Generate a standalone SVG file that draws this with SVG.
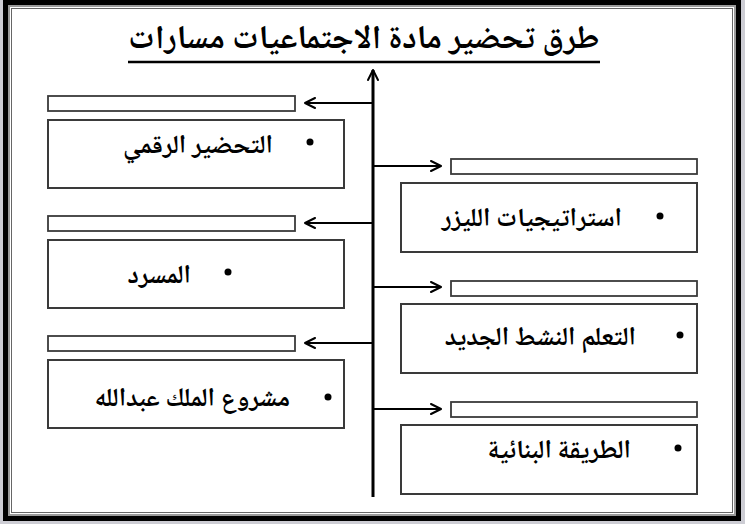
<svg xmlns="http://www.w3.org/2000/svg" width="745" height="524" viewBox="0 0 745 524">
<style>
.box{fill:#fff;stroke:#3a3a3a;stroke-width:2}
.bar{fill:#fff;stroke:#3a3a3a;stroke-width:1.8}
.lbl{font-family:"Noto Naskh Arabic","Amiri","DejaVu Sans",sans-serif;font-weight:bold;font-size:26px;fill:#000}
.conn{stroke:#000;stroke-width:2;fill:none}
.head{stroke:#000;stroke-width:2;fill:none;stroke-linecap:round;stroke-linejoin:round}
</style>
<defs>
<marker id="arr" viewBox="0 0 12 12" refX="11" refY="6" markerWidth="12" markerHeight="12" markerUnits="userSpaceOnUse" orient="auto">
<path d="M1,1 L11,6 L1,11" class="head"/>
</marker>
</defs>
<rect x="0" y="0" width="745" height="524" fill="#cdcdd4"/>
<rect x="3" y="0" width="738" height="521" fill="#000"/>
<rect x="8" y="5" width="728" height="511" fill="#9a9a9a"/>
<rect x="10" y="7" width="724" height="507" fill="#fff"/>
<rect x="11.5" y="8.5" width="721" height="504" fill="none" stroke="#666" stroke-width="1"/>
<g id="title">
<text x="364" y="48" text-anchor="middle" style="font-family:'Noto Naskh Arabic','Amiri','DejaVu Sans',sans-serif;font-weight:bold;font-size:33px">طرق تحضير مادة الاجتماعيات مسارات</text>
<line x1="128" y1="62" x2="600" y2="62" stroke="#000" stroke-width="2.5"/>
</g>
<g id="connectors">
<line x1="373" y1="497" x2="373" y2="70" stroke="#000" stroke-width="3" marker-end="url(#arr)"/>
<line x1="373" y1="103" x2="305" y2="103" class="conn" marker-end="url(#arr)"/>
<line x1="373" y1="223" x2="305" y2="223" class="conn" marker-end="url(#arr)"/>
<line x1="373" y1="343" x2="305" y2="343" class="conn" marker-end="url(#arr)"/>
<line x1="373" y1="166" x2="441" y2="166" class="conn" marker-end="url(#arr)"/>
<line x1="373" y1="287" x2="441" y2="287" class="conn" marker-end="url(#arr)"/>
<line x1="373" y1="409" x2="441" y2="409" class="conn" marker-end="url(#arr)"/>
</g>
<g id="node-left-1">
<rect class="bar" x="48" y="96" width="247" height="15"/>
<rect class="box" x="48" y="120" width="296" height="68"/>
<circle cx="310" cy="142" r="3.5"/>
<text class="lbl" x="273" y="153" text-anchor="end">التحضير الرقمي</text>
</g>
<g id="node-left-2">
<rect class="bar" x="48" y="216" width="247" height="15"/>
<rect class="box" x="48" y="240" width="296" height="68"/>
<circle cx="228" cy="272" r="3.5"/>
<text class="lbl" x="191" y="283" text-anchor="end">المسرد</text>
</g>
<g id="node-left-3">
<rect class="bar" x="48" y="336" width="247" height="15"/>
<rect class="box" x="48" y="360" width="296" height="68"/>
<circle cx="328" cy="397" r="3.5"/>
<text class="lbl" x="290" y="406" text-anchor="end">مشروع الملك عبدالله</text>
</g>
<g id="node-right-1">
<rect class="bar" x="451" y="159" width="246" height="15"/>
<rect class="box" x="401" y="183" width="296" height="69"/>
<circle cx="660" cy="216" r="3.5"/>
<text class="lbl" x="622" y="226" text-anchor="end">استراتيجيات الليزر</text>
</g>
<g id="node-right-2">
<rect class="bar" x="451" y="281" width="246" height="15"/>
<rect class="box" x="401" y="304" width="296" height="69"/>
<circle cx="680" cy="335" r="3.5"/>
<text class="lbl" x="636" y="345" text-anchor="end">التعلم النشط الجديد</text>
</g>
<g id="node-right-3">
<rect class="bar" x="451" y="402" width="246" height="15"/>
<rect class="box" x="401" y="425" width="296" height="69"/>
<circle cx="678" cy="448" r="3.5"/>
<text class="lbl" x="631" y="458" text-anchor="end">الطريقة البنائية</text>
</g>
</svg>
